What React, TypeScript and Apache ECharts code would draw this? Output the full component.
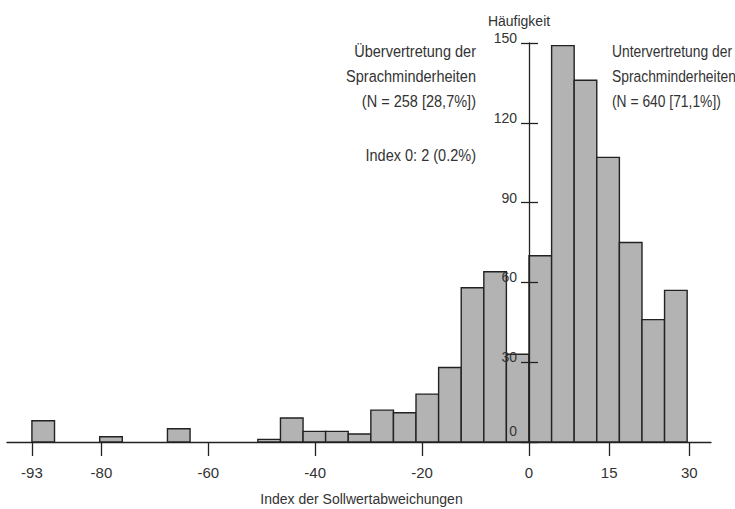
import React, { useEffect, useRef } from "react";
import * as echarts from "echarts";

const binEdges = [
  -93.0, -88.77, -84.55, -80.32, -76.09, -71.86, -67.64, -63.41, -59.18, -54.95,
  -50.73, -46.5, -42.27, -38.05, -33.82, -29.59, -25.36, -21.14, -16.91, -12.68,
  -8.45, -4.23, 0, 4.23, 8.45, 12.68, 16.91, 21.14, 25.36, 29.59,
];
const counts = [
  8, 0, 0, 2, 0, 0, 5, 0, 0, 0,
  1, 9, 4, 4, 3, 12, 11, 18, 28, 58,
  64, 33, 70, 149, 136, 107, 75, 46, 57,
];
const xTickValues = [-93, -80, -60, -40, -20, 0, 15, 30];
const Y_MAX = 150;
const Y_STEP = 30;
const leftNote = ["Übervertretung der", "Sprachminderheiten", "(N = 258 [28,7%])"];
const indexNote = "Index 0: 2 (0.2%)";
const rightNote = ["Untervertretung der", "Sprachminderheiten", "(N = 640 [71,1%])"];

const X_MIN = -97.66;
const X_MAX = 34.05;
const GRID = { left: 7, right: 24, top: 43, bottom: 67 };
const W = 735;

const FONT = '"Liberation Sans", Arial, sans-serif';
const TXT = "#333";
const LINE = "#222";

export default function App() {
  const ref = useRef<HTMLDivElement>(null);
  useEffect(() => {
    if (!ref.current) return;
    const chart = echarts.init(ref.current, undefined, { renderer: "svg" });
    const data = counts.map((c, i) => [binEdges[i], binEdges[i + 1], c]);
    const gridW = W - GRID.left - GRID.right;
    const zeroOffset = -((0 - X_MIN) / (X_MAX - X_MIN)) * gridW;
    const noteFont = `16.5px ${FONT}`;
    chart.setOption({
      animation: false,
      textStyle: { fontFamily: FONT },
      grid: { ...GRID, containLabel: false, outerBoundsMode: "none" },
      xAxis: {
        type: "value",
        min: X_MIN,
        max: X_MAX,
        axisLine: { show: true, onZero: false, lineStyle: { color: LINE, width: 1.3 } },
        axisTick: { show: true, length: 14, customValues: xTickValues, lineStyle: { color: LINE, width: 1.3 } },
        axisLabel: { customValues: xTickValues, fontSize: 15, color: TXT, margin: 23, fontFamily: FONT },
        splitLine: { show: false },
        name: "Index der Sollwertabweichungen",
        nameLocation: "middle",
        nameGap: 50,
        nameTextStyle: { fontSize: 14, color: TXT, fontFamily: FONT, padding: [0, 0, 0, 5] },
      },
      yAxis: [
        {
          type: "value",
          min: 0,
          max: Y_MAX,
          interval: Y_STEP,
          position: "left",
          offset: zeroOffset,
          z: 10,
          axisLine: { show: true, onZero: false, lineStyle: { color: LINE, width: 1.3 } },
          axisTick: { show: true, length: 8, lineStyle: { color: LINE, width: 1.3 } },
          axisLabel: {
            fontSize: 14,
            color: TXT,
            margin: 12,
            fontFamily: FONT,
            verticalAlign: "middle",
            padding: [0, 0, 10, 0],
            formatter: (v: number) => (v === 0 ? "{z|0}" : String(v)),
            rich: { z: { fontSize: 14, color: TXT, fontFamily: FONT, padding: [0, 0, 12, 0] } },
          },
          splitLine: { show: false },
          name: "Häufigkeit",
          nameLocation: "end",
          nameGap: 15,
          nameTextStyle: { fontSize: 14, color: TXT, fontFamily: FONT, padding: [0, 20, 0, 0] },
        },
        {
          type: "value",
          min: 0,
          max: Y_MAX,
          interval: Y_STEP,
          position: "left",
          offset: zeroOffset,
          z: 10,
          axisLine: { show: false, onZero: false },
          axisTick: { show: true, inside: true, length: 9, lineStyle: { color: LINE, width: 1.3 } },
          axisLabel: { show: false },
          splitLine: { show: false },
        },
      ],
      series: [
        {
          type: "custom",
          xAxisIndex: 0,
          yAxisIndex: 0,
          z: 2,
          encode: { x: [0, 1], y: 2 },
          data,
          renderItem: (params: any, api: any) => {
            const x0 = api.value(0);
            const x1 = api.value(1);
            const c = api.value(2);
            if (!c) return null;
            const p0 = api.coord([x0, c]);
            const p1 = api.coord([x1, 0]);
            return {
              type: "rect",
              shape: { x: p0[0], y: p0[1], width: p1[0] - p0[0], height: p1[1] - p0[1] },
              style: { fill: "#b3b3b3", stroke: LINE, lineWidth: 1.4 },
            };
          },
        },
      ],
      graphic: [
        {
          type: "text",
          x: 476,
          y: 39,
          scaleX: 0.88,
          style: {
            text: leftNote.join("\n"),
            font: noteFont,
            fill: TXT,
            align: "right",
            verticalAlign: "top",
            lineHeight: 25,
          },
        },
        {
          type: "text",
          x: 476,
          y: 155.5,
          scaleX: 0.88,
          style: {
            text: indexNote,
            font: noteFont,
            fill: TXT,
            align: "right",
            verticalAlign: "middle",
          },
        },
        {
          type: "text",
          x: 612,
          y: 39,
          scaleX: 0.84,
          style: {
            text: rightNote.join("\n"),
            font: noteFont,
            fill: TXT,
            align: "left",
            verticalAlign: "top",
            lineHeight: 25,
          },
        },
      ],
    });
    return () => chart.dispose();
  }, []);
  return (
    <div
      ref={ref}
      style={{ position: "absolute", left: 0, top: 0, width: 735, height: 509 }}
    />
  );
}
